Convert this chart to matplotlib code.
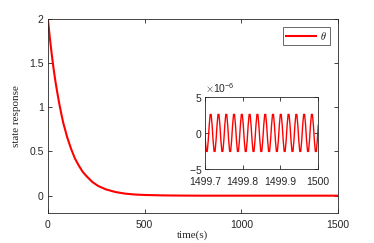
import numpy as np
import matplotlib
matplotlib.use("Agg")
import matplotlib.pyplot as plt
from matplotlib.ticker import ScalarFormatter

plt.rcParams['font.family'] = ['Liberation Sans', 'DejaVu Sans']
plt.rcParams['axes.unicode_minus'] = False
plt.rcParams['mathtext.fontset'] = 'cm'

# main decay
t_main = [0, 10, 20, 30, 40, 50, 60, 70, 80, 90, 100, 120, 140, 160, 180, 200,
          230, 260, 300, 350, 400, 450, 500, 600, 700, 800, 1000, 1500]
theta_main = [2.0, 1.79, 1.60, 1.43, 1.28, 1.15, 1.03, 0.92, 0.82, 0.74, 0.66,
              0.53, 0.42, 0.34, 0.27, 0.22, 0.155, 0.11, 0.071, 0.041, 0.023,
              0.013, 0.008, 0.003, 0.001, 0.0, 0.0, 0.0]

# inset oscillation (units of 1e-6), sampled every dt_in starting at t0_in
t0_in = 1499.7 - 0.0016
dt_in = 0.002586
theta_in_e6 = [
    1.07, -1.07, -2.59, -2.59, -1.07, 1.07, 2.59, 2.59,
    1.07, -1.07, -2.59, -2.59, -1.07, 1.07, 2.59, 2.59,
    1.07, -1.07, -2.59, -2.59, -1.07, 1.07, 2.59, 2.59,
    1.07, -1.07, -2.59, -2.59, -1.07, 1.07, 2.59, 2.59,
    1.07, -1.07, -2.59, -2.59, -1.07, 1.07, 2.59, 2.59,
    1.07, -1.07, -2.59, -2.59, -1.07, 1.07, 2.59, 2.59,
    1.07, -1.07, -2.59, -2.59, -1.07, 1.07, 2.59, 2.59,
    1.07, -1.07, -2.59, -2.59, -1.07, 1.07, 2.59, 2.59,
    1.07, -1.07, -2.59, -2.59, -1.07, 1.07, 2.59, 2.59,
    1.07, -1.07, -2.59, -2.59, -1.07, 1.07, 2.59, 2.59,
    1.07, -1.07, -2.59, -2.59, -1.07, 1.07, 2.59, 2.59,
    1.07, -1.07, -2.59, -2.59, -1.07, 1.07, 2.59, 2.59,
    1.07, -1.07, -2.59, -2.59, -1.07, 1.07, 2.59, 2.59,
    1.07, -1.07, -2.59, -2.59, -1.07, 1.07, 2.59, 2.59,
    1.07, -1.07, -2.59, -2.59, -1.07, 1.07,
]
t_in = t0_in + dt_in * np.arange(len(theta_in_e6))
theta_in = np.array(theta_in_e6) * 1e-6

main_xticks = [0, 500, 1000, 1500]
main_yticks = [0, 0.5, 1, 1.5, 2]
in_xticks = [1499.7, 1499.8, 1499.9, 1500]
in_xticklabels = ['1499.7', '1499.8', '1499.9', '1500']
in_yticks = [-5e-6, 0, 5e-6]

axc = '#262626'
fig = plt.figure(figsize=(3.74, 2.43), dpi=100)
ax = fig.add_axes([0.128, 0.122, 0.776, 0.800])
ax.plot(t_main, theta_main, color='#ff0000', lw=1.5, label=r'$\theta$')
ax.set_xlim(0, 1500)
ax.set_ylim(-0.2, 2)
ax.set_xticks(main_xticks)
ax.set_yticks(main_yticks)
ax.set_yticklabels(['0', '0.5', '1', '1.5', '2'])
ax.tick_params(direction='in', top=True, right=True, labelsize=7.5, colors=axc,
               length=3, width=0.6, pad=3)
ax.tick_params(axis='x', pad=5)
for s in ax.spines.values():
    s.set_color(axc)
    s.set_linewidth(0.6)
ax.set_xlabel('time(s)', family='Liberation Serif', fontsize=8, color=axc, labelpad=0)
ax.set_ylabel('state response', family='Liberation Serif', fontsize=8, color=axc, labelpad=6)
leg = ax.legend(loc='upper right', fontsize=7.5, frameon=True, fancybox=False,
                handlelength=2.9, borderpad=0.3, handletextpad=0.4,
                borderaxespad=0.75)
leg.get_frame().set_edgecolor(axc)
leg.get_frame().set_linewidth(0.6)

ins = fig.add_axes([0.548, 0.306, 0.302, 0.294])
ins.plot(t_in, theta_in, color='#ff0000', lw=1.0)
ins.set_xlim(1499.7, 1500)
ins.set_ylim(-5e-6, 5e-6)
ins.set_xticks(in_xticks)
ins.set_xticklabels(in_xticklabels)
ins.set_yticks(in_yticks)
fmt = ScalarFormatter(useMathText=True)
fmt.set_powerlimits((0, 0))
ins.yaxis.set_major_formatter(fmt)
ins.yaxis.get_offset_text().set_fontsize(7.5)
ins.yaxis.get_offset_text().set_color(axc)
ins.tick_params(direction='in', top=True, right=True, labelsize=7.5, colors=axc,
                length=3, width=0.6, pad=2)
ins.tick_params(axis='x', pad=6)
for s in ins.spines.values():
    s.set_color(axc)
    s.set_linewidth(0.6)

fig.savefig('out.png', dpi=100)
